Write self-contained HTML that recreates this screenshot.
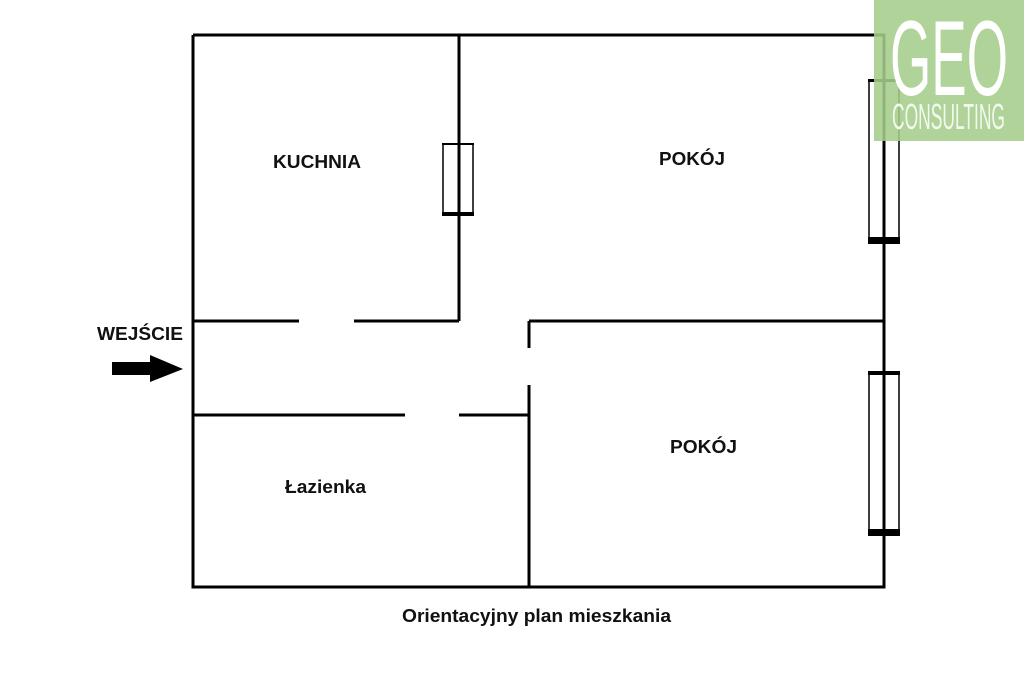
<!DOCTYPE html>
<html><head><meta charset="utf-8"><style>
html,body{margin:0;padding:0;background:#fff;}
svg{display:block}
text{font-family:"Liberation Sans",Arial,sans-serif;font-weight:bold;fill:#111}
</style></head><body>
<svg width="1024" height="683" viewBox="0 0 1024 683" xmlns="http://www.w3.org/2000/svg">
<g stroke="#000" stroke-width="3" fill="none">
<polyline points="193,35 884,35 884,587 193,587 193,35"/>
<line x1="459" y1="35" x2="459" y2="321"/>
<line x1="193" y1="321" x2="299" y2="321"/>
<line x1="354" y1="321" x2="459" y2="321"/>
<line x1="529" y1="321" x2="884" y2="321"/>
<line x1="529" y1="321" x2="529" y2="348"/>
<line x1="529" y1="385" x2="529" y2="587"/>
<line x1="193" y1="415" x2="405" y2="415"/>
<line x1="459" y1="415" x2="529" y2="415"/>
</g>
<g stroke="#000" fill="none" stroke-width="1.5">
<rect x="443" y="144" width="30" height="70"/>
<rect x="869" y="80" width="30" height="161"/>
<rect x="869" y="373" width="30" height="160"/>
</g>
<g fill="#000">
<rect x="442" y="143" width="32" height="2"/>
<rect x="442" y="212" width="32" height="4"/>
<rect x="868" y="79" width="32" height="3"/>
<rect x="868" y="237" width="32" height="7"/>
<rect x="868" y="371" width="32" height="4"/>
<rect x="868" y="529" width="32" height="7"/>
<rect x="112" y="362" width="39" height="13"/>
<polygon points="150,355 183,369 150,382"/>
</g>
<text x="273" y="168" font-size="18" textLength="88" lengthAdjust="spacingAndGlyphs">KUCHNIA</text>
<text x="659" y="165" font-size="18" textLength="66" lengthAdjust="spacingAndGlyphs">POKÓJ</text>
<text x="670" y="453" font-size="18" textLength="67" lengthAdjust="spacingAndGlyphs">POKÓJ</text>
<text x="285" y="493" font-size="18" textLength="81" lengthAdjust="spacingAndGlyphs">Łazienka</text>
<text x="97" y="340" font-size="18" textLength="86" lengthAdjust="spacingAndGlyphs">WEJŚCIE</text>
<text x="402" y="622" font-size="18" textLength="269" lengthAdjust="spacingAndGlyphs">Orientacyjny plan mieszkania</text>
<rect x="874" y="0" width="150" height="141" fill="#a4cd8a" fill-opacity="0.88"/>
<text x="890" y="95" font-size="107" textLength="118" lengthAdjust="spacingAndGlyphs" style="fill:#fff;font-weight:normal">GEO</text>
<text x="892" y="129" font-size="36" textLength="113" lengthAdjust="spacingAndGlyphs" style="fill:#f4f9ef;font-weight:normal">CONSULTING</text>
</svg>
</body></html>
